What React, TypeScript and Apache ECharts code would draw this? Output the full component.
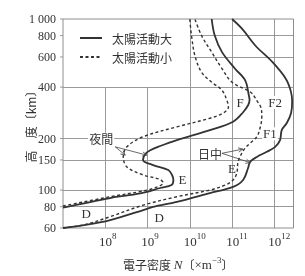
import React, { useEffect, useRef } from 'react';
import * as echarts from 'echarts';

// ---- data (electron density N [m^-3], altitude [km]) ----
const SERIES_NAMES = ['太陽活動大', '太陽活動小'];

const DAY_MAX: [number, number][] = [
  [1e7, 60], [3.4e7, 62.5], [1.31e8, 66.8], [7.9e8, 76.4], [1.36e9, 79.7], [4.95e9, 85.2],
  [3.0e10, 96], [1.06e11, 104.4], [1.83e11, 114.5], [2.4e11, 134.5], [2.68e11, 146.2],
  [3.86e11, 156.2], [6.65e11, 167.3], [1.05e12, 179], [1.37e12, 196], [1.5e12, 224],
  [1.98e12, 246.5], [2.5e12, 282], [2.65e12, 330], [2.45e12, 380], [1.87e12, 448],
  [9.1e11, 559], [3.55e11, 700], [1.74e11, 875], [1.0e11, 1000],
];

const DAY_MIN: [number, number][] = [
  [1e7, 60], [3.4e7, 62.9], [1.31e8, 69.9], [7.9e8, 81.6], [4.95e9, 91.4], [3.0e10, 100],
  [6.9e10, 107], [1.06e11, 114.5], [1.3e11, 125.8], [1.39e11, 146.2], [1.71e11, 164.6],
  [2.04e11, 176], [2.68e11, 188], [3.86e11, 205], [4.6e11, 230], [5.07e11, 268], [4.9e11, 300],
  [3.8e11, 335], [2.8e11, 372], [1.0e11, 427], [5.8e10, 512], [3.3e10, 640], [1.9e10, 800],
  [1.32e10, 1000],
];

const NIGHT_MAX: [number, number][] = [
  [1e7, 79], [1.31e8, 89.8], [6.7e8, 95.5], [2.0e9, 102.8], [3.7e9, 107], [4.1e9, 114.5],
  [3.8e9, 122.5], [3.1e9, 131], [1.36e9, 140], [7.8e8, 150], [8.8e8, 162], [1.16e9, 171],
  [2.0e9, 181], [4.95e9, 196], [3.0e10, 224], [1.06e11, 251], [1.83e11, 285], [2.4e11, 313],
  [2.6e11, 336], [2.5e11, 358], [2.05e11, 438], [1.18e11, 512], [5.8e10, 640], [3.9e10, 800],
  [3.3e10, 1000],
];

const NIGHT_MIN: [number, number][] = [
  [1e7, 80.7], [1.31e8, 91.4], [6.7e8, 98], [1.52e9, 103.2], [2.35e9, 110], [2.0e9, 115.3],
  [7.9e8, 122.5], [3.26e8, 136.5], [2.67e8, 156.2], [3.26e8, 179], [7.9e8, 205], [4.95e9, 234],
  [3.0e10, 263], [6.2e10, 282], [8.2e10, 305], [7.8e10, 327], [5.8e10, 383], [3.3e10, 427],
  [1.9e10, 489], [1.32e10, 612], [1.1e10, 800], [1.0e10, 1000],
];

const Y_TICKS = [60, 80, 100, 150, 200, 400, 600, 800, 1000];
const Y_TICK_LABELS = ['60', '80', '100', '150', '200', '400', '600', '800', '1 000'];
const X_DECADES_SHORT = [1e8, 1e9];
const X_DECADES_FULL = [1e10, 1e11, 1e12];
const X_MIN = 1e7;
const X_MAX = 2.85e12;
const Y_MIN = 60;
const Y_MAX = 1000;

const REGION_LABELS: { text: string; at: [number, number]; bg: boolean }[] = [
  { text: 'F', at: [1.55e11, 323], bg: false },
  { text: 'F2', at: [1.05e12, 325], bg: true },
  { text: 'F1', at: [7.9e11, 213], bg: true },
  { text: 'E', at: [6.7e9, 114.5], bg: false },
  { text: 'E', at: [1.0e11, 134], bg: false },
  { text: 'D', at: [3.55e7, 73.4], bg: false },
  { text: 'D', at: [1.9e9, 69], bg: false },
];
const TIME_LABELS: { text: string; at: [number, number]; from: [number, number]; to: [number, number][] }[] = [
  { text: '夜間', at: [8.0e7, 200], from: [1.72e8, 179], to: [[2.97e8, 160], [9.6e8, 160]] },
  { text: '日中', at: [3.0e10, 162.5], from: [5.75e10, 164], to: [[1.8e11, 173.5], [2.7e11, 144.6]] },
];

const INK = '#333';
const GRID = '#8e8e8e';
const SERIF = '"Liberation Serif", "DejaVu Serif", serif';
const CJK = '"Noto Sans CJK JP", sans-serif';

function curve(name: string, data: [number, number][], dashed: boolean) {
  return {
    type: 'line',
    name,
    data,
    smooth: 0.35,
    symbol: 'none',
    showSymbol: false,
    z: 3,
    lineStyle: { color: INK, width: dashed ? 1.4 : 1.8, type: dashed ? [3, 2.5] : 'solid' },
    itemStyle: { color: INK },
  };
}

export default function App() {
  const ref = useRef<HTMLDivElement>(null);
  useEffect(() => {
    const chart = echarts.init(ref.current!, null, { renderer: 'svg' });

    const gridLines: any[] = [
      ...[80, 100, 150, 200, 400].map((h) => [{ coord: [X_MIN, h] }, { coord: [X_MAX, h] }]),
      ...[600, 800].map((h) => [{ coord: [1e10, h] }, { coord: [X_MAX, h] }]),
      ...X_DECADES_SHORT.map((v) => [{ coord: [v, Y_MIN] }, { coord: [v, 400] }]),
      ...X_DECADES_FULL.map((v) => [{ coord: [v, Y_MIN] }, { coord: [v, Y_MAX] }]),
    ];

    const option: any = {
      animation: false,
      grid: { left: 63, right: 11.5, top: 19, bottom: 48, show: true, borderColor: GRID, borderWidth: 1, backgroundColor: 'transparent' },
      legend: {
        data: SERIES_NAMES,
        orient: 'vertical',
        left: 79,
        top: 31,
        padding: 0,
        itemWidth: 22,
        itemHeight: 14,
        itemGap: 5,
        itemStyle: { opacity: 0 },
        textStyle: { fontFamily: CJK, fontSize: 12, color: INK, lineHeight: 14, padding: [0, 0, 0, 5] },
      },
      xAxis: {
        type: 'log',
        logBase: 10,
        min: X_MIN,
        max: X_MAX,
        axisLine: { show: false },
        axisTick: { show: false },
        splitLine: { show: false },
        axisLabel: {
          margin: 3,
          formatter: (v: number) => {
            const e = Math.log10(v);
            const r = Math.round(e);
            if (Math.abs(e - r) > 0.01 || r === 7) return '';
            return `{p${String(r).length}| }{b|10}{s|${r}}`;
          },
          rich: {
            p1: { width: 5, fontSize: 9 },
            p2: { width: 10, fontSize: 9 },
            b: { fontSize: 13, fontFamily: SERIF, color: INK, lineHeight: 20 },
            s: { fontSize: 9, fontFamily: SERIF, color: INK, lineHeight: 9, verticalAlign: 'top' },
          },
        },
        name: '{c|電子密度 }{i|N}{c|〔}{l|×m}{s|−3}{c|〕}',
        nameLocation: 'middle',
        nameGap: 27,
        nameTextStyle: {
          rich: {
            c: { fontFamily: CJK, fontSize: 12, color: INK, lineHeight: 18 },
            i: { fontFamily: SERIF, fontStyle: 'italic', fontSize: 13, color: INK, lineHeight: 18 },
            l: { fontFamily: SERIF, fontSize: 13, color: INK, lineHeight: 18 },
            s: { fontFamily: SERIF, fontSize: 9, color: INK, lineHeight: 9, verticalAlign: 'top' },
          },
        },
      },
      yAxis: {
        type: 'log',
        logBase: 10,
        min: Y_MIN,
        max: Y_MAX,
        axisLine: { show: false },
        axisTick: { show: false },
        splitLine: { show: false },
        axisLabel: { show: false },
        name: '高　度〔km〕',
        nameLocation: 'middle',
        nameGap: 27,
        nameTextStyle: { fontFamily: CJK, fontSize: 12, color: INK },
      },
      series: [
        {
          type: 'line',
          name: 'grid',
          data: [[X_MIN, Y_MIN]],
          symbol: 'none',
          showSymbol: false,
          silent: true,
          z: 1,
          lineStyle: { width: 0 },
          markLine: {
            silent: true,
            z: 1,
            symbol: ['none', 'none'],
            lineStyle: { color: GRID, width: 0.9, type: 'solid' },
            label: { show: false },
            emphasis: { disabled: true },
            data: gridLines,
          },
        },
        curve(SERIES_NAMES[0], DAY_MAX, false),
        curve(SERIES_NAMES[0], NIGHT_MAX, false),
        curve(SERIES_NAMES[1], DAY_MIN, true),
        curve(SERIES_NAMES[1], NIGHT_MIN, true),
      ],
    };
    chart.setOption(option);

    const px = (p: [number, number]) => chart.convertToPixel({ gridIndex: 0 }, p) as unknown as number[];
    const elements: any[] = [];
    // y axis tick labels and short outward ticks
    Y_TICKS.forEach((h, i) => {
      const [x, y] = px([X_MIN, h]);
      elements.push({ type: 'line', z: 5, shape: { x1: x - 3, y1: y, x2: x, y2: y }, style: { stroke: GRID, lineWidth: 0.9 } });
      elements.push({
        type: 'text', x: x - 7, y, z: 5,
        style: { text: Y_TICK_LABELS[i], fill: INK, font: `12px ${SERIF}`, align: 'right', verticalAlign: 'middle' },
      });
    });
    REGION_LABELS.forEach((l) => {
      const [x, y] = px(l.at);
      elements.push({
        type: 'text', x, y, z: 10,
        style: {
          text: l.text, fill: INK, font: `13px ${SERIF}`, align: 'center', verticalAlign: 'middle',
          backgroundColor: l.bg ? '#fff' : 'transparent', padding: [0, 1],
        },
      });
    });
    TIME_LABELS.forEach((l) => {
      const [x, y] = px(l.at);
      elements.push({
        type: 'text', x, y, z: 10,
        style: { text: l.text, fill: INK, font: `12px ${CJK}`, align: 'center', verticalAlign: 'middle', backgroundColor: '#fff', padding: [0, 1] },
      });
      const [fx, fy] = px(l.from);
      l.to.forEach((t) => {
        const [tx, ty] = px(t);
        const a = Math.atan2(ty - fy, tx - fx);
        const L = 5, s = 0.45;
        elements.push({ type: 'line', z: 10, shape: { x1: fx, y1: fy, x2: tx, y2: ty }, style: { stroke: '#444', lineWidth: 0.8 } });
        elements.push({
          type: 'polyline', z: 10,
          shape: { points: [[tx - L * Math.cos(a - s), ty - L * Math.sin(a - s)], [tx, ty], [tx - L * Math.cos(a + s), ty - L * Math.sin(a + s)]] },
          style: { stroke: '#444', lineWidth: 0.8, fill: 'none' },
        });
      });
    });
    chart.setOption({ graphic: { elements } });

    return () => chart.dispose();
  }, []);
  return <div ref={ref} style={{ position: 'fixed', left: 0, top: 0, width: 305, height: 276 }} />;
}
